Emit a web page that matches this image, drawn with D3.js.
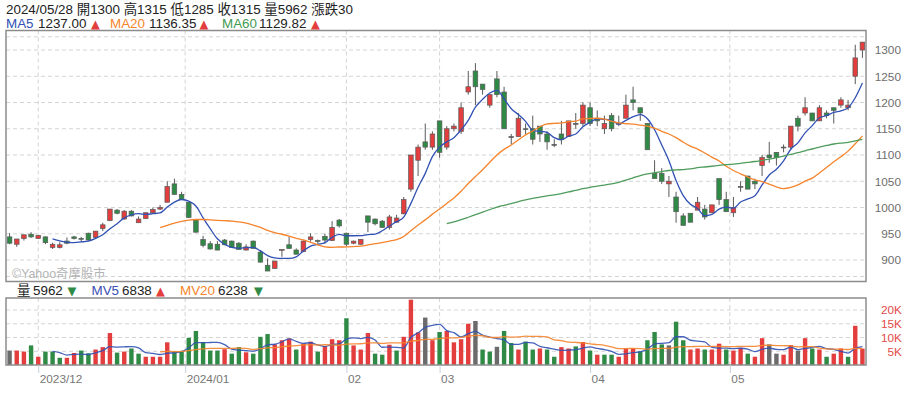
<!DOCTYPE html>
<html>
<head>
<meta charset="utf-8">
<title>2024/05/28 K線</title>
<script src="https://cdn.jsdelivr.net/npm/d3@7"></script>
<style>
  html, body { margin: 0; padding: 0; background: #fff; }
  svg { display: block; font-family: "Liberation Sans", Arial, "Noto Sans CJK TC", sans-serif; }
</style>
</head>
<body>
<svg id="chart" width="909" height="393"></svg>
<script>
// daily bars, 2023/11/27 .. 2024/05/28 (120 sessions)
const opens = [
  944, 930, 941, 949, 941, 944, 924, 924, 936, 944,
  941, 951, 943, 960, 975, 995, 978, 993, 971, 979,
  990, 997, 1010, 1045, 1025, 1010, 976, 939, 931, 930,
  938, 936, 932, 919, 936, 915, 890, 884, 919, 929,
  919, 916, 939, 937, 945, 937, 976, 951, 932, 930,
  984, 978, 974, 962, 972, 988, 1035, 1090, 1125, 1115,
  1165, 1115, 1150, 1145, 1220, 1260, 1235, 1195, 1245, 1220,
  1135, 1135, 1150, 1150, 1155, 1140, 1120, 1140, 1135, 1160,
  1160, 1190, 1170, 1150, 1175, 1160, 1170, 1205, 1190, 1160,
  1065, 1065, 1045, 1020, 984, 989, 995, 997, 990, 1055,
  1015, 990, 1040, 1060, 1050, 1080, 1100, 1105, 1115, 1115,
  1170, 1180, 1180, 1165, 1180, 1190, 1195, 1190, 1250, 1300
];
const highs = [
  951, 940, 948, 953, 947, 945, 933, 934, 943, 946,
  944, 952, 955, 971, 997, 997, 995, 995, 983, 991,
  1000, 1005, 1050, 1055, 1030, 1010, 977, 946, 936, 936,
  940, 937, 934, 930, 937, 919, 903, 898, 920, 944,
  922, 937, 951, 939, 950, 974, 978, 952, 937, 940,
  984, 979, 976, 986, 986, 1020, 1100, 1120, 1160, 1145,
  1165, 1155, 1160, 1200, 1260, 1275, 1235, 1215, 1260, 1230,
  1140, 1180, 1160, 1175, 1155, 1145, 1130, 1165, 1165, 1180,
  1200, 1200, 1185, 1175, 1180, 1175, 1215, 1230, 1190, 1160,
  1090, 1075, 1060, 1030, 989, 989, 1020, 1005, 1005, 1055,
  1030, 1020, 1050, 1060, 1055, 1100, 1125, 1105, 1120, 1155,
  1175, 1210, 1180, 1195, 1185, 1190, 1210, 1205, 1310, 1315
];
const lows = [
  930, 925, 937, 942, 940, 930, 921, 922, 930, 939,
  934, 937, 941, 955, 974, 987, 977, 983, 971, 978,
  989, 995, 1010, 1025, 1015, 980, 952, 924, 920, 918,
  928, 924, 920, 918, 922, 895, 879, 883, 906, 922,
  911, 915, 935, 931, 931, 937, 962, 926, 930, 929,
  953, 966, 962, 958, 971, 987, 1030, 1060, 1110, 1110,
  1095, 1110, 1145, 1140, 1215, 1195, 1215, 1190, 1210, 1150,
  1120, 1135, 1140, 1120, 1125, 1110, 1115, 1120, 1135, 1150,
  1155, 1155, 1155, 1140, 1145, 1155, 1170, 1185, 1165, 1110,
  1055, 1045, 1020, 971, 966, 972, 995, 977, 990, 1005,
  992, 982, 1030, 1035, 1035, 1060, 1085, 1080, 1105, 1110,
  1145, 1175, 1165, 1165, 1170, 1160, 1190, 1185, 1235, 1285
];
const closes = [
  932, 940, 948, 944, 947, 933, 930, 929, 932, 941,
  940, 938, 955, 967, 997, 989, 993, 984, 978, 990,
  996, 1000, 1040, 1025, 1015, 981, 953, 928, 921, 919,
  929, 924, 920, 925, 922, 896, 879, 898, 920, 922,
  911, 936, 944, 936, 938, 962, 965, 930, 936, 939,
  972, 969, 962, 982, 980, 1015, 1100, 1115, 1115, 1140,
  1105, 1150, 1155, 1190, 1230, 1230, 1225, 1215, 1215, 1150,
  1135, 1170, 1150, 1130, 1140, 1125, 1120, 1130, 1165, 1160,
  1195, 1160, 1165, 1160, 1150, 1160, 1195, 1200, 1180, 1110,
  1055, 1050, 1050, 992, 966, 972, 1010, 982, 1005, 1015,
  992, 1000, 1040, 1035, 1045, 1095, 1095, 1095, 1115, 1155,
  1155, 1190, 1165, 1190, 1175, 1185, 1205, 1195, 1285, 1315
];
// volume in lots
const volumes = [
  5250, 5250, 4875, 7125, 3000, 4875, 4875, 2625, 2625, 4375,
  5250, 4250, 5625, 6500, 11625, 4500, 4875, 6000, 4125, 3000,
  3000, 3000, 8250, 5000, 5000, 9875, 12375, 8375, 5250, 5250,
  5750, 4125, 6500, 4625, 4125, 10250, 11250, 7500, 9000, 9625,
  5625, 7750, 8500, 4875, 6750, 9375, 9000, 17000, 7125, 5625,
  11625, 4125, 3750, 7375, 5250, 10250, 23750, 11875, 17250, 9000,
  12000, 12375, 8250, 9375, 15000, 16000, 5625, 4875, 6625, 12375,
  8000, 5625, 8500, 5625, 6000, 5625, 3000, 6500, 6000, 6750,
  8375, 5250, 3750, 3750, 3750, 3000, 6000, 6000, 5000, 9000,
  12000, 7500, 7125, 15750, 9000, 5625, 6000, 5625, 5625, 7750,
  5625, 5250, 6250, 4125, 3000, 9750, 7500, 4125, 3750, 7250,
  5250, 9750, 6000, 5625, 3000, 4125, 6000, 3000, 14250, 5962
];

// month gridlines: bar index of the month's first session (.5 = the 1st was a holiday)
const monthIdx = [4, 24.5, 47, 60, 81, 100.5];
const monthLabels = ['2023/12', '2024/01', '02', '03', '04', '05'];

const priceTicks = [900, 950, 1000, 1050, 1100, 1150, 1200, 1250, 1300];
const volTicks = [5000, 10000, 15000, 20000];
const volTickLabels = ['5K', '10K', '15K', '20K'];

const maPeriods = [5, 20, 60];
const mvPeriods = [5, 20];

const header = '2024/05/28 開1300 高1315 低1285 收1315 量5962 漲跌30';
const maLegend = [['MA5', '1237.00', '▲'], ['MA20', '1136.35', '▲'], ['MA60', '1129.82', '▲']];
const volLegend = [['量', '5962', '▼'], ['MV5', '6838', '▲'], ['MV20', '6238', '▼']];

// ---- styles / layout ----
const RED = '#e33d3d';
const GREEN = '#2e8a44';
const FLAT = '#6b6b6b';
const lineColors = { 5: '#3151b4', 20: '#f5842c', 60: '#4f9c5c' };
const legendColors = { '量': '#222', MV5: '#3a4fb3', MV20: '#f5842c', MA5: '#3151b4', MA20: '#f5842c', MA60: '#3f9a52' };

const left = 6, right = 866;
const price = { top: 30.5, bottom: 281.5 };
const vol = { top: 298, bottom: 365 };

const svg = d3.select('#chart');

const x = d3.scaleLinear().domain([-0.5, closes.length - 0.5]).range([left, right]);
const y = d3.scaleLinear().domain([900, 1300]).range([260, 50]);
const yVol = d3.scaleLinear().domain([0, 20000]).range([vol.bottom, 310]);

// the lines only start one bar after a full window
function movingAvg(values, n) {
  return values.map((v, i) => (i < n + 1 ? null : d3.mean(values.slice(i - n + 1, i + 1))));
}

// ---- grid ----
const grid = svg.append('g')
  .attr('stroke', '#d4d4d4')
  .attr('stroke-dasharray', '4,3')
  .attr('fill', 'none');

const priceGridY = priceTicks.map(y).concat([price.top + 6.3, price.bottom - 5]);
grid.selectAll('.hp').data(priceGridY).join('line')
  .attr('x1', left).attr('x2', right)
  .attr('y1', d => d).attr('y2', d => d);

grid.selectAll('.hv').data(volTicks).join('line')
  .attr('x1', left).attr('x2', right)
  .attr('y1', d => yVol(d)).attr('y2', d => yVol(d));

monthIdx.forEach(m => {
  grid.append('line').attr('x1', x(m)).attr('x2', x(m)).attr('y1', price.top).attr('y2', price.bottom);
  grid.append('line').attr('x1', x(m)).attr('x2', x(m)).attr('y1', vol.top).attr('y2', vol.bottom);
});

// watermark
svg.append('text')
  .attr('x', 12).attr('y', 278)
  .attr('font-size', 12.4)
  .attr('fill', '#b4b4b4')
  .text('©Yahoo奇摩股市');

// ---- candles ----
const idx = d3.range(closes.length);
const bodyW = 4.6;

const candles = svg.append('g');
candles.selectAll('line').data(idx).join('line')
  .attr('x1', i => x(i)).attr('x2', i => x(i))
  .attr('y1', i => y(highs[i])).attr('y2', i => y(lows[i]))
  .attr('stroke', '#5a5a5a').attr('stroke-width', 1);

candles.selectAll('rect').data(idx).join('rect')
  .attr('x', i => x(i) - bodyW / 2)
  .attr('width', bodyW)
  .attr('y', i => y(Math.max(opens[i], closes[i])))
  .attr('height', i => Math.max(Math.abs(y(opens[i]) - y(closes[i])), 0.8))
  .attr('fill', i => closes[i] > opens[i] ? RED : closes[i] < opens[i] ? GREEN : '#5a5a5a')
  .attr('stroke', '#5a5a5a').attr('stroke-width', 0.7);

// ---- moving averages ----
const maLine = d3.line()
  .defined(d => d.v !== null)
  .x(d => x(d.i))
  .y(d => y(d.v))
  .curve(d3.curveMonotoneX);

maPeriods.forEach(n => {
  const pts = movingAvg(closes, n).map((v, i) => ({ i, v }));
  svg.append('path')
    .attr('d', maLine(pts))
    .attr('fill', 'none')
    .attr('stroke', lineColors[n])
    .attr('stroke-width', 1.3);
});

// ---- volume ----
// bar colour follows the change against the previous close
const volColor = i => {
  if (i === 0 || closes[i] === closes[i - 1]) return FLAT;
  return closes[i] > closes[i - 1] ? RED : GREEN;
};

svg.append('g').selectAll('rect').data(idx).join('rect')
  .attr('x', i => x(i) - 2.2)
  .attr('width', 4.4)
  .attr('y', i => yVol(volumes[i]))
  .attr('height', i => vol.bottom - yVol(volumes[i]))
  .attr('fill', volColor);

const mvLine = d3.line()
  .defined(d => d.v !== null)
  .x(d => x(d.i))
  .y(d => yVol(d.v))
  .curve(d3.curveMonotoneX);

mvPeriods.forEach(n => {
  const pts = movingAvg(volumes, n).map((v, i) => ({ i, v }));
  svg.append('path')
    .attr('d', mvLine(pts))
    .attr('fill', 'none')
    .attr('stroke', lineColors[n])
    .attr('stroke-width', 1.3)
    .attr('stroke-opacity', 0.9);
});

// ---- frames ----
[price, vol].forEach(p => {
  svg.append('rect')
    .attr('x', left).attr('y', p.top)
    .attr('width', right - left).attr('height', p.bottom - p.top)
    .attr('fill', 'none')
    .attr('stroke', '#8c8c8c').attr('stroke-width', 1.5);
});

// ---- axes ----
const yAxis = svg.append('g')
  .attr('transform', `translate(${right},0)`)
  .call(d3.axisRight(y).tickValues(priceTicks).tickSize(0).tickFormat(d3.format('d')));
yAxis.select('.domain').remove();
yAxis.selectAll('text')
  .attr('x', 35).attr('text-anchor', 'end')
  .attr('fill', '#6e6e6e')
  .style('font-size', '11.8px')
  .style('font-family', 'inherit');

const vAxis = svg.append('g')
  .attr('transform', `translate(${right},0)`)
  .call(d3.axisRight(yVol).tickValues(volTicks).tickSize(0).tickFormat((d, i) => volTickLabels[i]));
vAxis.select('.domain').remove();
vAxis.selectAll('text')
  .attr('x', 36).attr('text-anchor', 'end')
  .attr('fill', '#e34a4a')
  .style('font-size', '11.8px')
  .style('font-family', 'inherit');

const xAxis = svg.append('g')
  .attr('transform', `translate(0,${vol.bottom})`)
  .call(d3.axisBottom(x).tickValues(monthIdx).tickSize(8).tickFormat((d, i) => monthLabels[i]));
xAxis.select('.domain').remove();
xAxis.selectAll('line').attr('stroke', '#c9d0da');
xAxis.selectAll('text')
  .attr('x', 1).attr('y', 10).attr('text-anchor', 'start')
  .attr('fill', '#777')
  .style('font-size', '11.8px')
  .style('font-family', 'inherit');

// ---- header texts ----
svg.append('text')
  .attr('x', 6).attr('y', 14)
  .attr('font-size', 13.4)
  .attr('fill', '#222')
  .style('white-space', 'pre')
  .text(header);

function legendRow(yPos, rows, xs) {
  rows.forEach((r, k) => {
    const [name, value, arrow] = r;
    const g = svg.append('g').attr('font-size', 13.4);
    g.append('text').attr('x', xs[k][0]).attr('y', yPos).attr('fill', legendColors[name]).text(name);
    g.append('text').attr('x', xs[k][1]).attr('y', yPos).attr('fill', '#222').text(value);
    g.append('text').attr('x', xs[k][2]).attr('y', yPos)
      .attr('font-size', 11.5)
      .style('font-family', '"DejaVu Sans", sans-serif')
      .attr('fill', arrow === '▲' ? RED : GREEN)
      .text(arrow);
  });
}

legendRow(28, maLegend, [[6, 38, 91], [110, 149, 199.5], [222, 259, 311]]);
legendRow(294.5, volLegend, [[17, 33, 67.5], [91.5, 122, 156], [180, 218, 254]]);
</script>
</body>
</html>
